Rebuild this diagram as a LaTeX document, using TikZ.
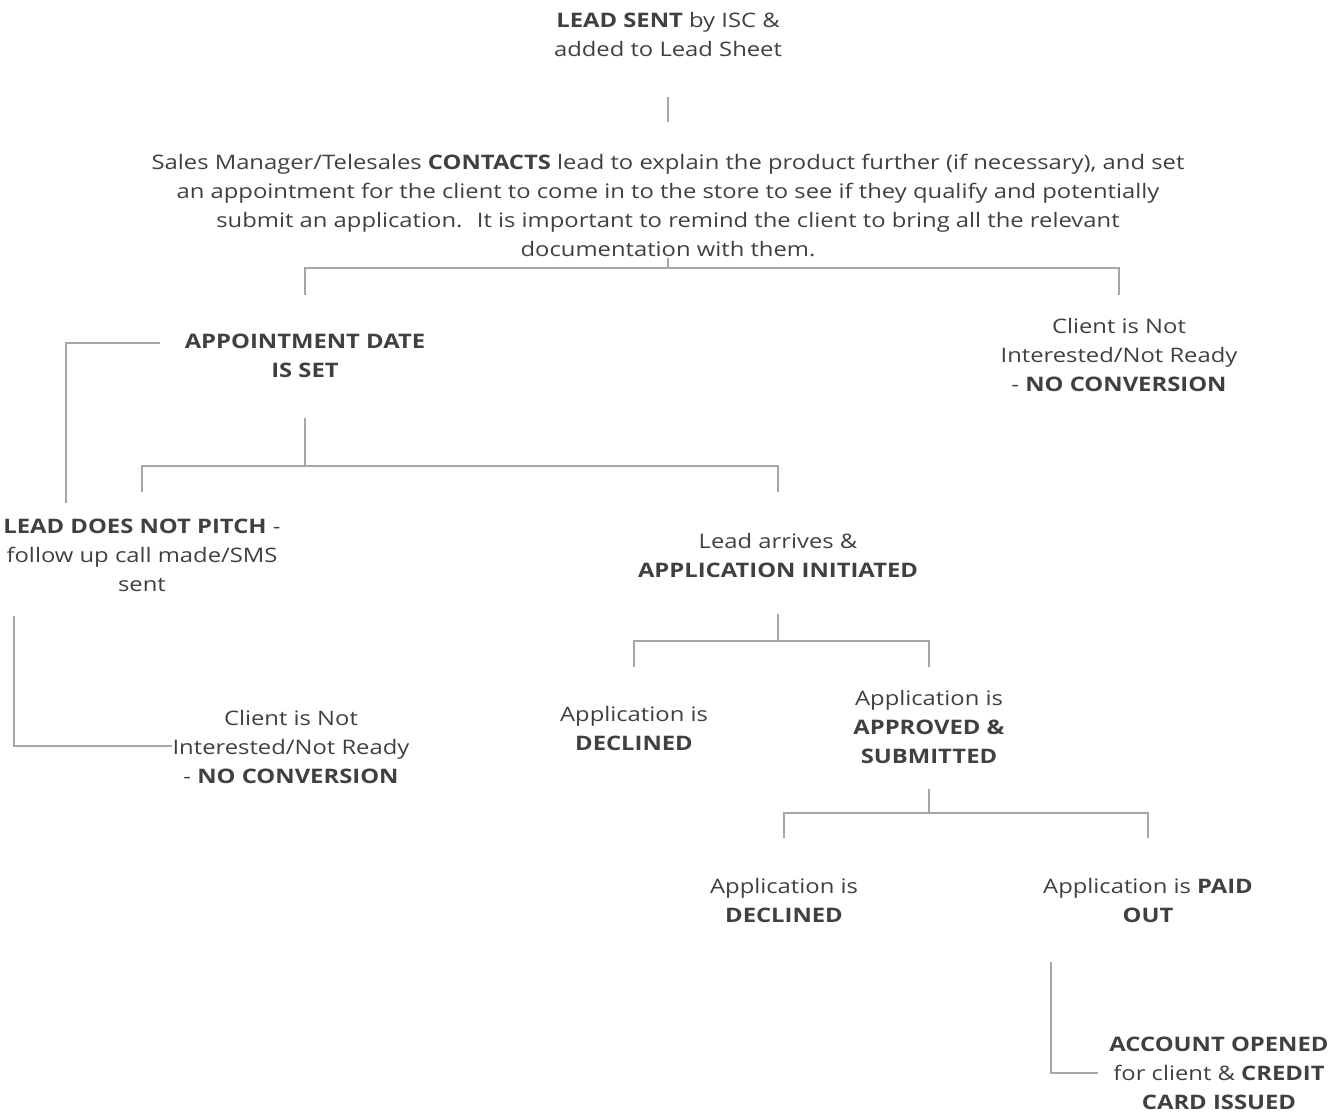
\documentclass[tikz,border=0pt]{standalone}
\usepackage{fontspec}
\setmainfont{Open Sans}[FakeStretch=1.19]
\usetikzlibrary{positioning}
\definecolor{textGrey}{RGB}{64,64,64}
\definecolor{lineGrey}{RGB}{166,166,166}
\newcommand{\key}[1]{\textbf{#1}}

\begin{document}
\begin{tikzpicture}[
    x=0.75pt, y=-0.75pt,
    txt/.style = {align=center, inner sep=0pt, text=textGrey,
        font=\fontsize{15pt}{21.75pt}\selectfont},
    link/.style = {draw=lineGrey, line width=1.5pt}
  ]
  \useasboundingbox (0,0) rectangle (1335,1113);

  \node[txt] (LEAD) at (668,35) {\key{LEAD SENT} by ISC \&\\added to Lead Sheet};
  \node[txt] (CONTACT) at (668,205) {Sales Manager/Telesales \key{CONTACTS} lead to explain the product further (if necessary), and set\\an appointment for the client to come in to the store to see if they qualify and potentially\\submit an application.~ It is important to remind the client to bring all the relevant\\documentation with them.};
  \node[txt] (APPT) at (305,356) {\key{APPOINTMENT DATE}\\\key{IS SET}};
  \node[txt] (NOCONV) at (1119,355) {Client is Not\\Interested/Not Ready\\- \key{NO CONVERSION}};
  \node[txt] (NOPITCH) at (142,555) {\key{LEAD DOES NOT PITCH} -\\follow up call made/SMS\\sent};
  \node[txt] (ARRIVE) at (778,555) {Lead arrives \&\\\key{APPLICATION INITIATED}};
  \node[txt] (NOCONVB) at (291,747) {Client is Not\\Interested/Not Ready\\- \key{NO CONVERSION}};
  \node[txt] (DECLINE) at (634,728) {Application is\\\key{DECLINED}};
  \node[txt] (APPROVE) at (929,727) {Application is\\\key{APPROVED \&}\\\key{SUBMITTED}};
  \node[txt] (DECLINEB) at (784,900) {Application is\\\key{DECLINED}};
  \node[txt] (PAID) at (1148,900) {Application is \key{PAID}\\\key{OUT}};
  \node[txt] (ACCOUNT) at (1219,1073) {\key{ACCOUNT OPENED}\\for client \& \key{CREDIT}\\\key{CARD ISSUED}};

  % junction points of the connectors
  \coordinate (LEAD-out) at (668,97);
  \coordinate (CONTACT-in) at (668,122);
  \coordinate (CONTACT-out) at (668,258);
  \coordinate (CONTACT-bar) at (668,268);
  \coordinate (APPT-in) at (305,295);
  \coordinate (NOCONV-in) at (1119,295);
  \coordinate (APPT-side) at (160,343);
  \coordinate (NOPITCH-side) at (66,503);
  \coordinate (APPT-out) at (305,418);
  \coordinate (APPT-bar) at (305,466);
  \coordinate (NOPITCH-in) at (142,492);
  \coordinate (ARRIVE-in) at (778,492);
  \coordinate (NOPITCH-out) at (14,616);
  \coordinate (NOCONVB-in) at (172,746);
  \coordinate (ARRIVE-out) at (778,614);
  \coordinate (ARRIVE-bar) at (778,641);
  \coordinate (DECLINE-in) at (634,667);
  \coordinate (APPROVE-in) at (929,667);
  \coordinate (APPROVE-out) at (929,789);
  \coordinate (APPROVE-bar) at (929,813);
  \coordinate (DECLINEB-in) at (784,838);
  \coordinate (PAID-in) at (1148,838);
  \coordinate (PAID-out) at (1051,962);
  \coordinate (ACCOUNT-in) at (1098,1073);

  \draw[link] (LEAD-out) -- (CONTACT-in);
  \draw[link] (CONTACT-out) -- (CONTACT-bar) (APPT-in) |- (CONTACT-bar) -| (NOCONV-in);
  \draw[link] (APPT-side) -| (NOPITCH-side);
  \draw[link] (APPT-out) -- (APPT-bar) (NOPITCH-in) |- (APPT-bar) -| (ARRIVE-in);
  \draw[link] (NOPITCH-out) |- (NOCONVB-in);
  \draw[link] (ARRIVE-out) -- (ARRIVE-bar) (DECLINE-in) |- (ARRIVE-bar) -| (APPROVE-in);
  \draw[link] (APPROVE-out) -- (APPROVE-bar) (DECLINEB-in) |- (APPROVE-bar) -| (PAID-in);
  \draw[link] (PAID-out) |- (ACCOUNT-in);
\end{tikzpicture}
\end{document}
